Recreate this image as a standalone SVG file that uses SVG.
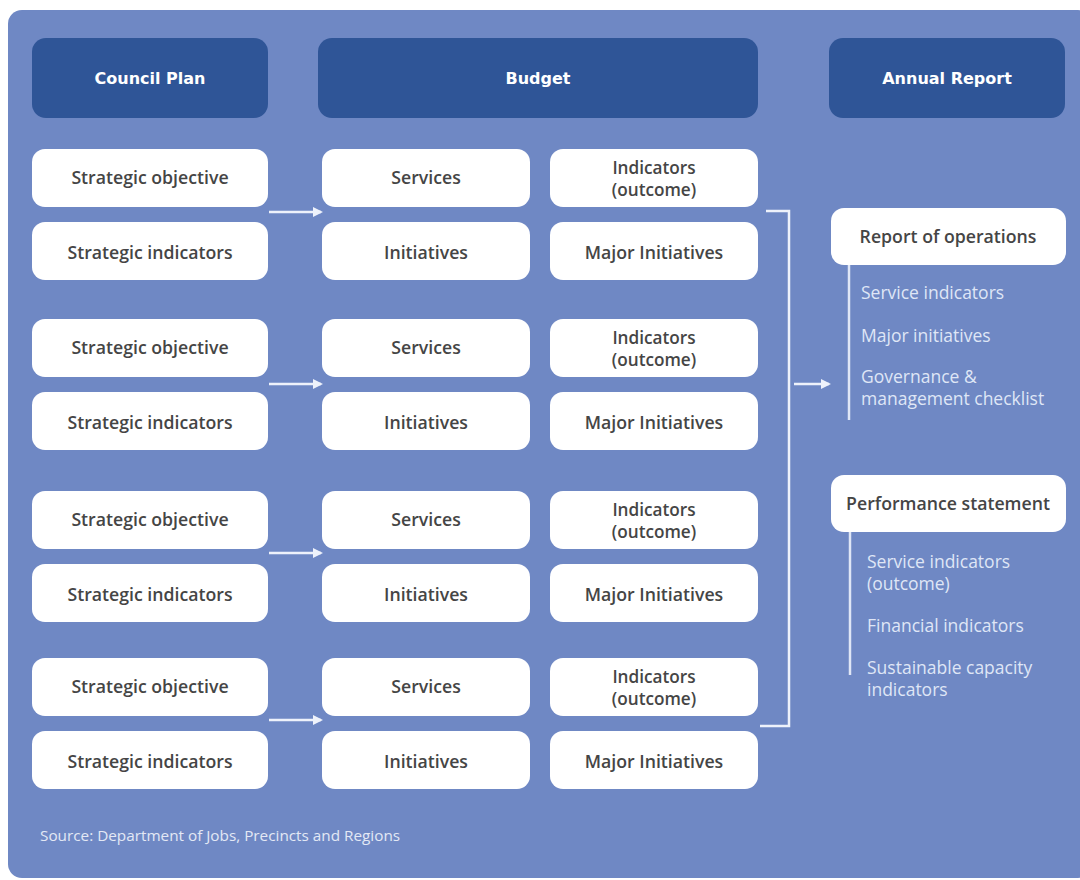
<svg xmlns="http://www.w3.org/2000/svg" width="1080" height="880" viewBox="0 0 1080 880">
  <defs>
    <style>
      .panel { fill: #6f88c4; }
      .head { fill: #2f5597; }
      .head-t { font-family: "DejaVu Sans", "Liberation Sans", sans-serif; font-weight: 700; font-size: 16px; fill: #ffffff; text-anchor: middle; }
      .box { fill: #ffffff; }
      .box-t { font-family: "Open Sans", "Liberation Sans", sans-serif; font-weight: 600; font-size: 17.7px; fill: #454545; text-anchor: middle; }
      .box-t2 { font-size: 17.2px; }
      .sub-t { font-family: "Open Sans", "Liberation Sans", sans-serif; font-size: 17.5px; fill: #dfe6f6; }
      .src-t { font-family: "Open Sans", "Liberation Sans", sans-serif; font-size: 15.3px; fill: #e3e8f5; }
      .conn { stroke: #eef2fb; stroke-width: 2.5; fill: none; }
      .rule { stroke: #dfe6f6; stroke-width: 2.5; fill: none; }
    </style>
    <marker id="arrow" viewBox="0 0 10 10" refX="8" refY="5" markerWidth="4" markerHeight="4" orient="auto" markerUnits="strokeWidth">
      <path d="M0,0 L10,5 L0,10 z" fill="#eef2fb"/>
    </marker>
  </defs>

  <rect width="1080" height="880" fill="#ffffff"/>
  <rect class="panel" x="8" y="10" width="1084" height="868" rx="14"/>

  <!-- column headers -->
  <g id="hdr-council">
    <rect class="head" x="32" y="38" width="236" height="80" rx="14"/>
    <text class="head-t" x="150" y="84">Council Plan</text>
  </g>
  <g id="hdr-budget">
    <rect class="head" x="318" y="38" width="440" height="80" rx="14"/>
    <text class="head-t" x="538" y="84">Budget</text>
  </g>
  <g id="hdr-annual">
    <rect class="head" x="829" y="38" width="236" height="80" rx="14"/>
    <text class="head-t" x="947" y="84">Annual Report</text>
  </g>

  <!-- group 1 -->
  <g id="g1-objective"><rect class="box" x="32" y="149" width="236" height="58" rx="13"/><text class="box-t" x="150" y="184">Strategic objective</text></g>
  <g id="g1-indicators"><rect class="box" x="32" y="222" width="236" height="58" rx="13"/><text class="box-t" x="150" y="259">Strategic indicators</text></g>
  <g id="g1-services"><rect class="box" x="322" y="149" width="208" height="58" rx="13"/><text class="box-t" x="426" y="184">Services</text></g>
  <g id="g1-initiatives"><rect class="box" x="322" y="222" width="208" height="58" rx="13"/><text class="box-t" x="426" y="259">Initiatives</text></g>
  <g id="g1-outcome"><rect class="box" x="550" y="149" width="208" height="58" rx="13"/><text class="box-t box-t2" x="654" y="174">Indicators</text><text class="box-t box-t2" x="654" y="196">(outcome)</text></g>
  <g id="g1-major"><rect class="box" x="550" y="222" width="208" height="58" rx="13"/><text class="box-t" x="654" y="259">Major Initiatives</text></g>

  <!-- group 2 -->
  <g id="g2-objective"><rect class="box" x="32" y="319" width="236" height="58" rx="13"/><text class="box-t" x="150" y="354">Strategic objective</text></g>
  <g id="g2-indicators"><rect class="box" x="32" y="392" width="236" height="58" rx="13"/><text class="box-t" x="150" y="429">Strategic indicators</text></g>
  <g id="g2-services"><rect class="box" x="322" y="319" width="208" height="58" rx="13"/><text class="box-t" x="426" y="354">Services</text></g>
  <g id="g2-initiatives"><rect class="box" x="322" y="392" width="208" height="58" rx="13"/><text class="box-t" x="426" y="429">Initiatives</text></g>
  <g id="g2-outcome"><rect class="box" x="550" y="319" width="208" height="58" rx="13"/><text class="box-t box-t2" x="654" y="344">Indicators</text><text class="box-t box-t2" x="654" y="366">(outcome)</text></g>
  <g id="g2-major"><rect class="box" x="550" y="392" width="208" height="58" rx="13"/><text class="box-t" x="654" y="429">Major Initiatives</text></g>

  <!-- group 3 -->
  <g id="g3-objective"><rect class="box" x="32" y="491" width="236" height="58" rx="13"/><text class="box-t" x="150" y="526">Strategic objective</text></g>
  <g id="g3-indicators"><rect class="box" x="32" y="564" width="236" height="58" rx="13"/><text class="box-t" x="150" y="601">Strategic indicators</text></g>
  <g id="g3-services"><rect class="box" x="322" y="491" width="208" height="58" rx="13"/><text class="box-t" x="426" y="526">Services</text></g>
  <g id="g3-initiatives"><rect class="box" x="322" y="564" width="208" height="58" rx="13"/><text class="box-t" x="426" y="601">Initiatives</text></g>
  <g id="g3-outcome"><rect class="box" x="550" y="491" width="208" height="58" rx="13"/><text class="box-t box-t2" x="654" y="516">Indicators</text><text class="box-t box-t2" x="654" y="538">(outcome)</text></g>
  <g id="g3-major"><rect class="box" x="550" y="564" width="208" height="58" rx="13"/><text class="box-t" x="654" y="601">Major Initiatives</text></g>

  <!-- group 4 -->
  <g id="g4-objective"><rect class="box" x="32" y="658" width="236" height="58" rx="13"/><text class="box-t" x="150" y="693">Strategic objective</text></g>
  <g id="g4-indicators"><rect class="box" x="32" y="731" width="236" height="58" rx="13"/><text class="box-t" x="150" y="768">Strategic indicators</text></g>
  <g id="g4-services"><rect class="box" x="322" y="658" width="208" height="58" rx="13"/><text class="box-t" x="426" y="693">Services</text></g>
  <g id="g4-initiatives"><rect class="box" x="322" y="731" width="208" height="58" rx="13"/><text class="box-t" x="426" y="768">Initiatives</text></g>
  <g id="g4-outcome"><rect class="box" x="550" y="658" width="208" height="58" rx="13"/><text class="box-t box-t2" x="654" y="683">Indicators</text><text class="box-t box-t2" x="654" y="705">(outcome)</text></g>
  <g id="g4-major"><rect class="box" x="550" y="731" width="208" height="58" rx="13"/><text class="box-t" x="654" y="768">Major Initiatives</text></g>

  <!-- annual report sections -->
  <g id="report-ops">
    <rect class="box" x="831" y="208" width="235" height="57" rx="13"/>
    <text class="box-t" x="948" y="243">Report of operations</text>
    <line class="rule" x1="849" y1="265" x2="849" y2="420"/>
    <text class="sub-t" x="861" y="299">Service indicators</text>
    <text class="sub-t" x="861" y="342">Major initiatives</text>
    <text class="sub-t" x="861" y="383">Governance &amp;</text>
    <text class="sub-t" x="861" y="405">management checklist</text>
  </g>
  <g id="perf-statement">
    <rect class="box" x="831" y="475" width="235" height="57" rx="13"/>
    <text class="box-t" x="948" y="510">Performance statement</text>
    <line class="rule" x1="850" y1="532" x2="850" y2="675"/>
    <text class="sub-t" x="867" y="568">Service indicators</text>
    <text class="sub-t" x="867" y="590">(outcome)</text>
    <text class="sub-t" x="867" y="632">Financial indicators</text>
    <text class="sub-t" x="867" y="674">Sustainable capacity</text>
    <text class="sub-t" x="867" y="696">indicators</text>
  </g>

  <!-- connectors -->
  <g id="connectors">
    <line class="conn" x1="269" y1="212" x2="321" y2="212" marker-end="url(#arrow)"/>
    <line class="conn" x1="269" y1="384" x2="321" y2="384" marker-end="url(#arrow)"/>
    <line class="conn" x1="269" y1="553" x2="321" y2="553" marker-end="url(#arrow)"/>
    <line class="conn" x1="269" y1="720" x2="321" y2="720" marker-end="url(#arrow)"/>
    <polyline class="conn" points="766,211 789,211 789,726 760,726"/>
    <line class="conn" x1="794" y1="384" x2="829" y2="384" marker-end="url(#arrow)"/>
  </g>

  <text class="src-t" x="40" y="841">Source: Department of Jobs, Precincts and Regions</text>
</svg>
